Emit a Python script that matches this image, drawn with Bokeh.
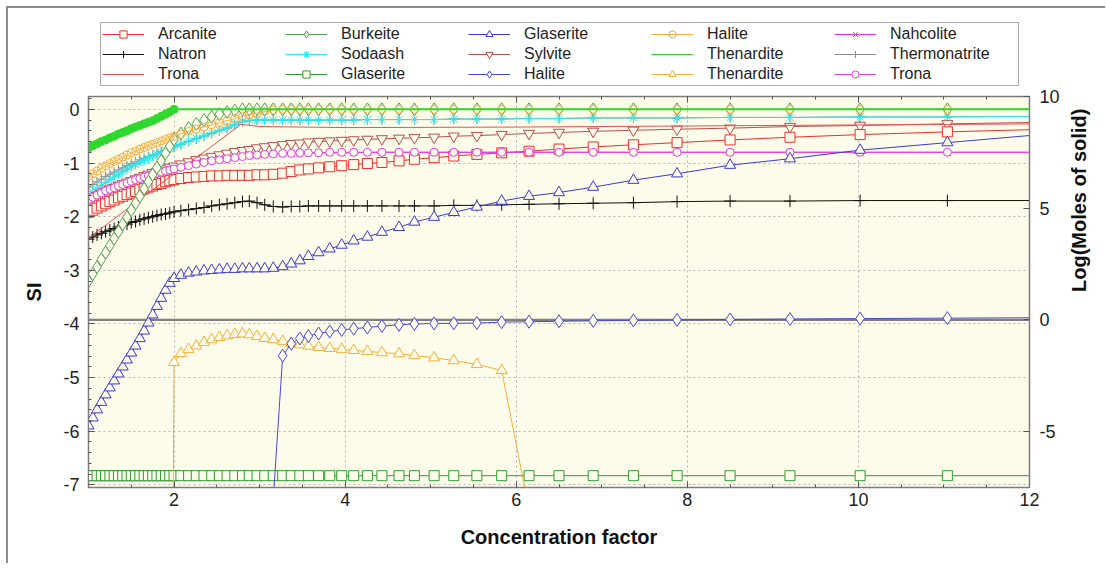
import math
from bokeh.plotting import figure
from bokeh.layouts import column
from bokeh.models import (Range1d, LinearAxis, SingleIntervalTicker, Legend,
                          LegendItem, Span, NumeralTickFormatter, CustomJSTickFormatter)
from bokeh.embed import file_html
from bokeh.resources import INLINE

# ---------------- data ----------------
# concentration-factor grid shared by most series
X = [1.00, 1.05, 1.10, 1.15, 1.20, 1.25, 1.30, 1.35, 1.40, 1.45,
     1.50, 1.55, 1.60, 1.65, 1.70, 1.75, 1.80, 1.85, 1.90, 1.95,
     2.00, 2.08, 2.17, 2.26, 2.35, 2.44, 2.53, 2.62, 2.71, 2.80,
     2.88, 2.97, 3.06, 3.16, 3.27, 3.37, 3.47, 3.57, 3.69, 3.82,
     3.96, 4.10, 4.26, 4.43, 4.63, 4.81, 5.04, 5.27, 5.54, 5.83,
     6.15, 6.50, 6.90, 7.37, 7.88, 8.50, 9.20, 10.02, 11.04, 12.20]

# Saturation indices (left axis)
ARCANITE = [-1.92, -1.88, -1.84, -1.80, -1.76, -1.72, -1.69, -1.65, -1.62, -1.59,
            -1.56, -1.53, -1.50, -1.48, -1.45, -1.43, -1.40, -1.38, -1.35, -1.33,
            -1.31, -1.29, -1.27, -1.26, -1.25, -1.24, -1.24, -1.23, -1.23, -1.23,
            -1.23, -1.22, -1.22, -1.21, -1.19, -1.16, -1.13, -1.11, -1.09, -1.07,
            -1.05, -1.03, -1.01, -0.99, -0.96, -0.93, -0.90, -0.87, -0.84, -0.81,
            -0.78, -0.74, -0.70, -0.66, -0.62, -0.57, -0.52, -0.47, -0.42, -0.37]

NATRON = [-2.42, -2.38, -2.34, -2.31, -2.28, -2.25, -2.22, -2.19, -2.16, -2.14,
          -2.11, -2.09, -2.06, -2.04, -2.02, -2.00, -1.98, -1.96, -1.95, -1.93,
          -1.91, -1.89, -1.87, -1.85, -1.83, -1.80, -1.78, -1.76, -1.74, -1.72,
          -1.71, -1.74, -1.78, -1.81, -1.82, -1.81, -1.81, -1.80, -1.80, -1.80,
          -1.80, -1.80, -1.80, -1.80, -1.80, -1.80, -1.80, -1.79, -1.79, -1.78,
          -1.77, -1.76, -1.75, -1.74, -1.72, -1.71, -1.71, -1.70, -1.70, -1.70]

TRONA_LINE_X = [1.00, 1.50, 2.00, 2.50, 2.78, 3.00, 4.00, 6.00, 8.00, 10.00, 12.20]
TRONA_LINE = [-2.40, -1.80, -1.20, -0.62, -0.28, -0.32, -0.34, -0.33, -0.31, -0.29, -0.27]

BURKEITE = [-3.20, -3.07, -2.94, -2.80, -2.67, -2.54, -2.41, -2.28, -2.14, -2.01,
            -1.88, -1.75, -1.62, -1.48, -1.35, -1.22, -1.09, -0.96, -0.82, -0.69,
            -0.56, -0.45, -0.35, -0.27, -0.20, -0.14, -0.09, -0.05, -0.02, 0.00,
            0.00, 0.00, 0.00, 0.00, 0.00, 0.00, 0.00, 0.00, 0.00, 0.00,
            0.00, 0.00, 0.00, 0.00, 0.00, 0.00, 0.00, 0.00, 0.00, 0.00,
            0.00, 0.00, 0.00, 0.00, 0.00, 0.00, 0.00, 0.00, 0.00, 0.00]

SODAASH = [-1.60, -1.54, -1.48, -1.42, -1.36, -1.31, -1.26, -1.21, -1.16, -1.12,
           -1.07, -1.03, -0.99, -0.95, -0.91, -0.87, -0.83, -0.80, -0.76, -0.73,
           -0.70, -0.65, -0.59, -0.54, -0.49, -0.44, -0.39, -0.34, -0.28, -0.22,
           -0.20, -0.20, -0.20, -0.20, -0.20, -0.20, -0.20, -0.20, -0.20, -0.20,
           -0.20, -0.20, -0.19, -0.19, -0.19, -0.19, -0.19, -0.18, -0.18, -0.18,
           -0.17, -0.17, -0.16, -0.16, -0.16, -0.15, -0.15, -0.14, -0.14, -0.13]

GLASERITE_SQ = [-6.83, -6.83, -6.83, -6.83, -6.83, -6.83, -6.83, -6.83, -6.83, -6.83,
                -6.83, -6.83, -6.83, -6.83, -6.83, -6.83, -6.83, -6.83, -6.83, -6.83,
                -6.83, -6.83, -6.83, -6.83, -6.83, -6.83, -6.83, -6.83, -6.83, -6.83,
                -6.83, -6.83, -6.83, -6.83, -6.83, -6.83, -6.83, -6.83, -6.83, -6.83,
                -6.83, -6.83, -6.83, -6.83, -6.83, -6.83, -6.83, -6.83, -6.83, -6.83,
                -6.83, -6.83, -6.83, -6.83, -6.83, -6.83, -6.83, -6.83, -6.83, -6.83]

GLASERITE_TRI = [-5.90, -5.75, -5.60, -5.46, -5.32, -5.19, -5.06, -4.93, -4.80, -4.67,
                 -4.54, -4.41, -4.27, -4.13, -3.98, -3.83, -3.67, -3.52, -3.37, -3.24,
                 -3.15, -3.09, -3.05, -3.03, -3.01, -3.00, -2.99, -2.98, -2.98, -2.97,
                 -2.97, -2.97, -2.97, -2.96, -2.93, -2.88, -2.82, -2.74, -2.67, -2.60,
                 -2.53, -2.45, -2.38, -2.29, -2.20, -2.10, -2.01, -1.92, -1.82, -1.71,
                 -1.62, -1.55, -1.45, -1.32, -1.20, -1.04, -0.92, -0.76, -0.62, -0.46]

SYLVITE = [-1.70, -1.65, -1.61, -1.57, -1.53, -1.49, -1.46, -1.42, -1.39, -1.36,
           -1.33, -1.30, -1.27, -1.24, -1.21, -1.18, -1.16, -1.13, -1.11, -1.08,
           -1.06, -1.02, -0.98, -0.94, -0.91, -0.88, -0.85, -0.82, -0.79, -0.77,
           -0.75, -0.72, -0.70, -0.68, -0.66, -0.64, -0.63, -0.61, -0.60, -0.59,
           -0.58, -0.57, -0.56, -0.55, -0.54, -0.53, -0.52, -0.50, -0.49, -0.47,
           -0.45, -0.43, -0.41, -0.39, -0.37, -0.35, -0.32, -0.30, -0.27, -0.24]

HALITE_CIRC = [-1.25, -1.20, -1.15, -1.10, -1.05, -1.01, -0.97, -0.93, -0.89, -0.85,
               -0.81, -0.78, -0.74, -0.71, -0.68, -0.65, -0.62, -0.59, -0.56, -0.53,
               -0.50, -0.46, -0.41, -0.37, -0.33, -0.29, -0.25, -0.21, -0.17, -0.13,
               -0.10, -0.07, -0.04, -0.01, 0.00, 0.00, 0.00, 0.00, 0.00, 0.00,
               0.00, 0.00, 0.00, 0.00, 0.00, 0.00, 0.00, 0.00, 0.00, 0.00,
               0.00, 0.00, 0.00, 0.00, 0.00, 0.00, 0.00, 0.00, 0.00, 0.00]

THENARDITE_LINE_X = [1.00, 1.05, 1.10, 1.15, 1.20, 1.25, 1.30, 1.35, 1.40, 1.45,
                     1.50, 1.55, 1.60, 1.65, 1.70, 1.75, 1.80, 1.85, 1.90, 1.95,
                     2.00, 12.20]
THENARDITE_LINE = [-0.72, -0.68, -0.64, -0.60, -0.57, -0.53, -0.50, -0.46, -0.43, -0.40,
                   -0.36, -0.33, -0.30, -0.27, -0.24, -0.21, -0.17, -0.13, -0.09, -0.05,
                   0.00, 0.00]

NAHCOLITE = [-1.62, -1.58, -1.55, -1.52, -1.49, -1.46, -1.43, -1.40, -1.38, -1.35,
             -1.33, -1.30, -1.28, -1.25, -1.23, -1.21, -1.18, -1.16, -1.14, -1.12,
             -1.10, -1.07, -1.04, -1.01, -0.98, -0.96, -0.93, -0.91, -0.89, -0.87,
             -0.86, -0.85, -0.84, -0.83, -0.83, -0.82, -0.82, -0.81, -0.81, -0.81,
             -0.81, -0.81, -0.80, -0.80, -0.80, -0.80, -0.80, -0.80, -0.80, -0.80,
             -0.80, -0.80, -0.80, -0.80, -0.80, -0.80, -0.80, -0.80, -0.80, -0.80]

THERMONATRITE = [-1.45, -1.40, -1.35, -1.30, -1.25, -1.21, -1.17, -1.13, -1.09, -1.05,
                 -1.01, -0.98, -0.94, -0.91, -0.88, -0.85, -0.82, -0.79, -0.76, -0.73,
                 -0.70, -0.65, -0.60, -0.55, -0.50, -0.45, -0.40, -0.35, -0.29, -0.23,
                 -0.21, -0.20, -0.20, -0.20, -0.20, -0.20, -0.20, -0.20, -0.20, -0.20,
                 -0.20, -0.20, -0.19, -0.19, -0.19, -0.19, -0.19, -0.18, -0.18, -0.18,
                 -0.17, -0.17, -0.16, -0.16, -0.16, -0.15, -0.15, -0.14, -0.14, -0.13]

TRONA_CIRC = [-1.68, -1.64, -1.60, -1.56, -1.52, -1.49, -1.46, -1.43, -1.40, -1.37,
              -1.34, -1.31, -1.29, -1.26, -1.24, -1.21, -1.19, -1.17, -1.15, -1.13,
              -1.11, -1.08, -1.05, -1.02, -0.99, -0.96, -0.94, -0.92, -0.90, -0.88,
              -0.86, -0.85, -0.84, -0.83, -0.82, -0.82, -0.81, -0.81, -0.81, -0.80,
              -0.80, -0.80, -0.80, -0.80, -0.80, -0.80, -0.80, -0.80, -0.80, -0.80,
              -0.80, -0.80, -0.80, -0.80, -0.80, -0.80, -0.80, -0.80, -0.80, -0.80]

# Log(moles of solid) (right axis)
HALITE_DIA_X = [3.16, 3.27, 3.37, 3.47, 3.57, 3.69, 3.82, 3.96, 4.10, 4.26,
                4.43, 4.63, 4.81, 5.04, 5.27, 5.54, 5.83, 6.15, 6.50, 6.90,
                7.37, 7.88, 8.50, 9.20, 10.02, 11.04, 12.20]
HALITE_DIA = [-8.00, -1.60, -1.06, -0.83, -0.72, -0.61, -0.52, -0.45, -0.39, -0.34,
              -0.27, -0.22, -0.18, -0.16, -0.15, -0.14, -0.10, -0.08, -0.06, -0.04,
              -0.02, 0.00, 0.02, 0.04, 0.06, 0.08, 0.10]

THENARDITE_TRI_X = [1.99, 2.00, 2.08, 2.17, 2.26, 2.35, 2.44, 2.53, 2.62, 2.71,
                    2.80, 2.88, 2.97, 3.06, 3.16, 3.27, 3.37, 3.47, 3.57, 3.69,
                    3.82, 3.96, 4.10, 4.26, 4.43, 4.63, 4.81, 5.04, 5.27, 5.54,
                    5.83, 6.15]
THENARDITE_TRI = [-8.00, -1.90, -1.50, -1.32, -1.16, -1.00, -0.88, -0.78, -0.71, -0.65,
                  -0.62, -0.66, -0.74, -0.82, -0.88, -0.95, -1.04, -1.11, -1.17, -1.23,
                  -1.27, -1.31, -1.36, -1.41, -1.46, -1.51, -1.59, -1.69, -1.82, -1.99,
                  -2.26, -8.50]

X_TICK_STEP = 2
SI_TICK_STEP = 1
MOL_TICK_STEP = 5

# series: key, label, x, y, colour, marker, size, axis, fill alpha
SERIES = [
    ("thermo", "Thermonatrite", X, THERMONATRITE, "#8e8e8e", "cross", 10, "default", 1.0),
    ("soda", "Sodaash", X, SODAASH, "#2ee6ee", "asterisk", 10, "default", 1.0),
    ("sylv", "Sylvite", X, SYLVITE, "#b4504c", "inverted_triangle", 11, "default", 1.0),
    ("arc", "Arcanite", X, ARCANITE, "#ec2d2d", "square", 10, "default", 1.0),
    ("natron", "Natron", X, NATRON, "#111111", "cross", 12, "default", 1.0),
    ("trona_l", "Trona", TRONA_LINE_X, TRONA_LINE, "#e8505a", None, 0, "default", 1.0),
    ("nahc", "Nahcolite", X, NAHCOLITE, "#ee2aee", "x", 9, "default", 1.0),
    ("trona_c", "Trona", X, TRONA_CIRC, "#e040e0", "circle", 8, "default", 1.0),
    ("glas_t", "Glaserite", X, GLASERITE_TRI, "#3b3bd2", "triangle", 11, "default", 1.0),
    ("glas_s", "Glaserite", X, GLASERITE_SQ, "#2f9a35", "square", 10, "default", 1.0),
    ("burk", "Burkeite", X, BURKEITE, "#55a05a", "diamond", 13, "default", 1.0),
    ("hal_c", "Halite", X, HALITE_CIRC, "#f4ad3d", "circle", 8, "default", 0.0),
    ("then_l", "Thenardite", THENARDITE_LINE_X, THENARDITE_LINE, "#2ed82e", None, 0, "default", 1.0),
    ("then_t", "Thenardite", THENARDITE_TRI_X, THENARDITE_TRI, "#f2b03a", "triangle", 11, "mol", 1.0),
    ("hal_d", "Halite", HALITE_DIA_X, HALITE_DIA, "#4848d6", "diamond", 13, "mol", 1.0),
]

LEGEND_ORDER = ["arc", "natron", "trona_l",
                "burk", "soda", "glas_s",
                "glas_t", "sylv", "hal_d",
                "hal_c", "then_l", "then_t",
                "nahc", "thermo", "trona_c"]

# ---------------- figure ----------------
FONT = "Liberation Sans"
BG = "#fdfbea"
FRAME = "#7c7c7c"
W = 1097


def draw_series(fig, main):
    out = {}
    for key, label, xs, ys, color, marker, size, rng, falpha in SERIES:
        lw = 2 if (key == "then_l" and main) else 1
        rs = [fig.line(xs, ys, line_color=color, line_width=lw, y_range_name=rng)]
        if marker is not None:
            rs.append(fig.scatter(xs, ys, marker=marker, size=size, line_color=color,
                                  line_width=1, fill_color=BG, fill_alpha=falpha,
                                  y_range_name=rng))
        if key == "then_l" and main:
            # dense band of saturation points at low concentration factor
            fig.scatter(xs[:-1], ys[:-1], marker="circle", size=8,
                        line_color=color, fill_color=color)
        out[key] = LegendItem(label=label, renderers=rs)
    return out


p = figure(width=W, height=475, x_range=Range1d(1, 12), y_range=Range1d(-7.05, 0.24),
           output_backend="svg", toolbar_location=None,
           min_border_left=80, min_border_right=76, min_border_top=8, min_border_bottom=76,
           background_fill_color=BG, border_fill_color="white")
p.extra_y_ranges = {"mol": Range1d(-7.5, 10)}
p.outline_line_color = FRAME
p.outline_line_width = 1.5


def style_axis(ax, minor=True):
    ax.axis_line_color = FRAME
    ax.major_tick_line_color = "#555555"
    ax.minor_tick_line_color = "#555555"
    ax.major_tick_in = 6
    ax.major_tick_out = 0
    ax.minor_tick_in = 3 if minor else 0
    ax.minor_tick_out = 0
    ax.major_label_text_font = FONT
    ax.major_label_text_font_size = "18px"
    ax.major_label_text_color = "#222222"
    ax.axis_label_text_font = FONT
    ax.axis_label_text_font_size = "20px"
    ax.axis_label_text_font_style = "bold"
    ax.axis_label_text_color = "#111111"


xa = p.xaxis[0]
xa.ticker = SingleIntervalTicker(interval=X_TICK_STEP, num_minor_ticks=4)
xa.axis_label = "Concentration factor"
style_axis(xa)
xa.major_label_standoff = 5
xa.axis_label_standoff = 17

ya = p.yaxis[0]
ya.ticker = SingleIntervalTicker(interval=SI_TICK_STEP, num_minor_ticks=5)
ya.formatter = NumeralTickFormatter(format="0")
ya.axis_label = "SI"
style_axis(ya)
ya.major_label_standoff = 9
ya.axis_label_standoff = 15

top = LinearAxis(ticker=SingleIntervalTicker(interval=X_TICK_STEP, num_minor_ticks=4),
                 formatter=CustomJSTickFormatter(code="return ''"))
style_axis(top)
top.major_label_standoff = 0
p.add_layout(top, "above")

ra = LinearAxis(y_range_name="mol",
                ticker=SingleIntervalTicker(interval=MOL_TICK_STEP, num_minor_ticks=0),
                formatter=NumeralTickFormatter(format="0"),
                axis_label="Log(Moles of solid)")
style_axis(ra, minor=False)
ra.major_label_standoff = 10
ra.axis_label_standoff = 16
ra.axis_label_orientation = math.pi / 2
p.add_layout(ra, "right")

p.xgrid[0].ticker = SingleIntervalTicker(interval=X_TICK_STEP)
p.ygrid[0].ticker = SingleIntervalTicker(interval=SI_TICK_STEP)
for g in (p.xgrid[0], p.ygrid[0]):
    g.grid_line_color = "#b4b4b4"
    g.grid_line_dash = "2 3"
    g.grid_line_width = 1

p.add_layout(Span(location=0, dimension="width", y_range_name="mol",
                  line_color="#808080", line_width=2.2, level="underlay"))

draw_series(p, main=True)

# ---- legend strip (same series, drawn outside its visible ranges) ----
lg = figure(width=W, height=80, x_range=Range1d(-3, -2), y_range=Range1d(-30, -29),
            x_axis_type=None, y_axis_type=None, output_backend="svg",
            toolbar_location=None, min_border=0,
            background_fill_color="white", border_fill_color="white")
lg.extra_y_ranges = {"mol": Range1d(-30, -29)}
lg.outline_line_color = None
lg.grid.visible = False
leg_items = draw_series(lg, main=False)

legend = Legend(items=[leg_items[k] for k in LEGEND_ORDER], orientation="vertical",
                nrows=3, location=(12, 2))
legend.label_text_font = FONT
legend.label_text_font_size = "16px"
legend.label_text_color = "#222222"
legend.glyph_width = 42
legend.glyph_height = 18
legend.label_height = 20
legend.label_width = 127
legend.label_standoff = 14
legend.spacing = 0
legend.padding = 1
legend.margin = 0
legend.border_line_color = "#555555"
legend.border_line_width = 1.2
legend.background_fill_color = "white"
legend.background_fill_alpha = 1.0
lg.add_layout(legend)

page = column(lg, p, spacing=0,
              styles={"border-left": "2px solid #8c8c8c", "border-top": "2px solid #8c8c8c",
                      "margin-left": "6px", "margin-top": "6px"})

open("out.html", "w").write(file_html(page, INLINE))
